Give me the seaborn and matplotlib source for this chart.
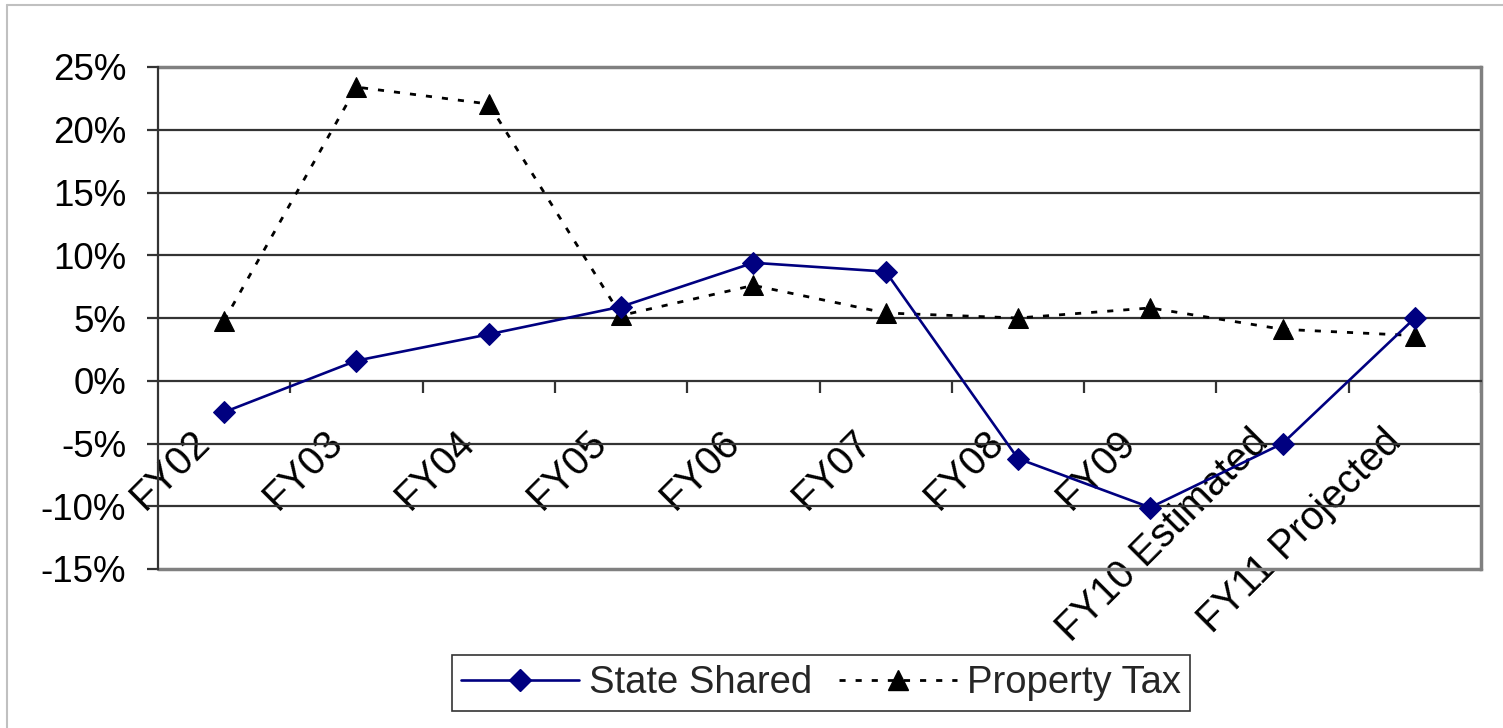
import matplotlib
matplotlib.use("Agg")
import matplotlib.pyplot as plt
import matplotlib.transforms as mtrans
from matplotlib.lines import Line2D
import seaborn as sns
import pandas as pd

categories = ["FY02", "FY03", "FY04", "FY05", "FY06", "FY07", "FY08", "FY09",
              "FY10 Estimated", "FY11 Projected"]
state_shared = [-2.5, 1.6, 3.7, 5.9, 9.4, 8.7, -6.2, -10.1, -5.0, 5.0]
property_tax = [4.8, 23.4, 22.05, 5.2, 7.6, 5.4, 5.0, 5.8, 4.1, 3.6]
y_ticks = [-15, -10, -5, 0, 5, 10, 15, 20, 25]
y_tick_labels = ["-15%", "-10%", "-5%", "0%", "5%", "10%", "15%", "20%", "25%"]

sns.set_theme(style="white")
plt.rcParams["font.family"] = ["Liberation Sans", "DejaVu Sans"]

fig = plt.figure(figsize=(15.03, 7.28), dpi=100)
ax = fig.add_axes([158 / 1503, 1 - 569 / 728, (1481 - 158) / 1503, (569 - 67) / 728])

pos = list(range(len(categories)))
df = pd.DataFrame({"x": pos, "ss": state_shared, "pt": property_tax})

dot_style = (0, (2.2, 3.6))
sns.lineplot(data=df, x="x", y="ss", ax=ax, color="#000080", lw=1.9,
             marker="D", markersize=11.5, markeredgecolor="#000080",
             markerfacecolor="#000080", zorder=4, legend=False)
sns.lineplot(data=df, x="x", y="pt", ax=ax, color="black", lw=2.0,
             linestyle=dot_style, marker="^", markersize=14,
             markeredgecolor="black", markerfacecolor="black", zorder=3,
             legend=False)

ax.set_xlim(-0.5, len(categories) - 0.5)
ax.set_ylim(-15, 25)
ax.set_xlabel("")
ax.set_ylabel("")

# gridlines
for v in y_ticks[1:-1]:
    if v != 0:
        ax.axhline(v, color="#333333", lw=1.6, zorder=1)
ax.axhline(25, color="#808080", lw=2.5, zorder=2, clip_on=False)
ax.axhline(-15, color="#808080", lw=2.5, zorder=2, clip_on=False)

ax.spines["top"].set_visible(False)
ax.spines["right"].set_color("#808080")
ax.spines["right"].set_linewidth(2.5)
ax.spines["left"].set_color("#333333")
ax.spines["left"].set_linewidth(1.6)
ax.spines["bottom"].set_position(("data", 0))
ax.spines["bottom"].set_color("#333333")
ax.spines["bottom"].set_linewidth(1.6)

ax.set_yticks(y_ticks)
ax.set_yticklabels(y_tick_labels)
ax.tick_params(axis="y", which="major", direction="out", length=8, width=1.6,
               color="#333333", left=True, pad=15, labelsize=26.5, labelcolor="black")

ax.set_xticks(pos)
ax.set_xticklabels(categories)
ax.set_xticks([p + 0.5 for p in pos[:-1]] + [len(categories) - 0.5], minor=True)
ax.tick_params(axis="x", which="major", length=0, pad=40, labelsize=28.5,
               labelcolor="black", bottom=True)
ax.tick_params(axis="x", which="minor", direction="out", length=8.5, width=1.6,
               color="#333333", bottom=True)
offset = mtrans.ScaledTranslation(-0.20, 0, fig.dpi_scale_trans)
for lab in ax.get_xticklabels():
    lab.set_rotation(45)
    lab.set_ha("right")
    lab.set_va("center")
    lab.set_rotation_mode("anchor")
    lab.set_transform(lab.get_transform() + offset)

handles = [
    Line2D([], [], color="#000080", lw=1.9, marker="D", markersize=11.5),
    Line2D([], [], color="black", lw=2.0, linestyle=dot_style,
           marker="^", markersize=14),
]
leg = fig.legend(handles, ["State Shared", "Property Tax"], loc="center",
                 bbox_to_anchor=(821 / 1503, 1 - 683 / 728), ncol=2,
                 fontsize=27.5, frameon=True, fancybox=False, shadow=False,
                 handlelength=3.1, handletextpad=0.25, columnspacing=0.7,
                 borderpad=0.25, borderaxespad=0)
leg.get_frame().set_edgecolor("black")
leg.get_frame().set_linewidth(1.2)

# figure border (top and left visible)
fig.add_artist(Line2D([7 / 1503, 7 / 1503], [0, 1 - 5 / 728],
                      transform=fig.transFigure, color="#c0c0c0", lw=1.5))
fig.add_artist(Line2D([7 / 1503, 1], [1 - 5 / 728, 1 - 5 / 728],
                      transform=fig.transFigure, color="#c0c0c0", lw=1.5))

fig.savefig("out.png", dpi=100, facecolor="white")
